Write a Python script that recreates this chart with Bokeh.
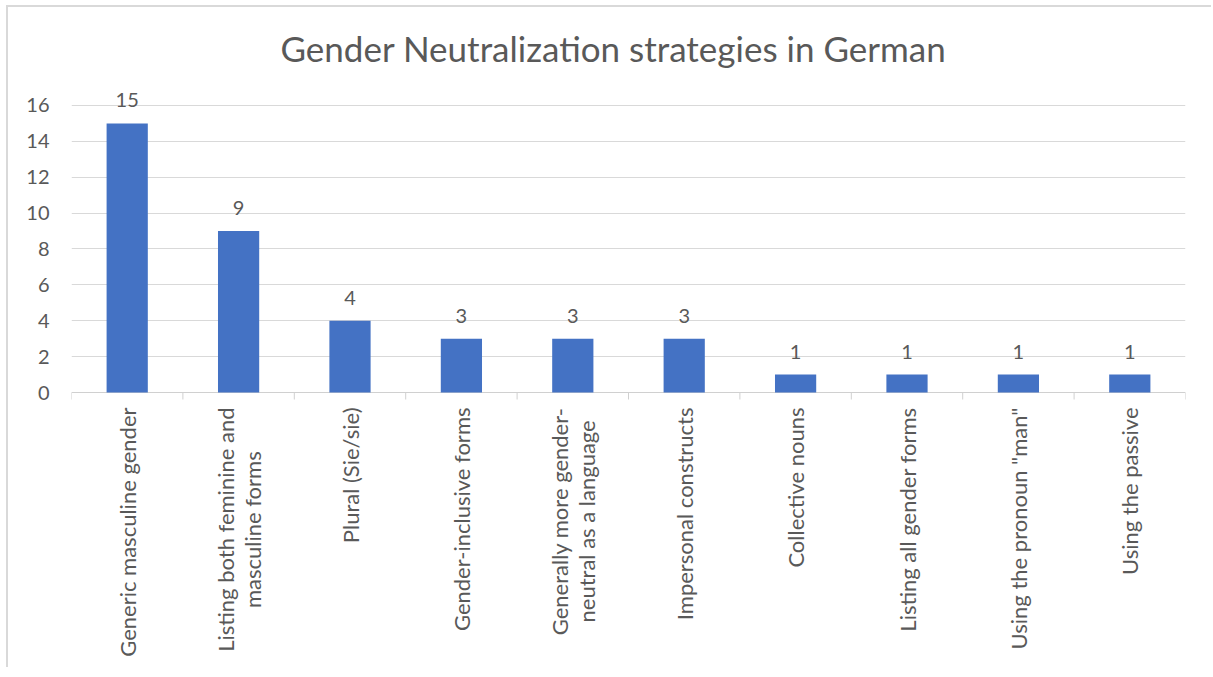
import math
from bokeh.plotting import figure
from bokeh.models import Range1d, FixedTicker, ColumnDataSource
from bokeh.core.properties import value
from bokeh.embed import file_html
from bokeh.resources import INLINE

categories = [
    "Generic masculine gender",
    "Listing both feminine and\nmasculine forms",
    "Plural (Sie/sie)",
    "Gender-inclusive forms",
    "Generally more gender-\nneutral as a language",
    "Impersonal constructs",
    "Collective nouns",
    "Listing all gender forms",
    "Using the pronoun \"man\"",
    "Using the passive",
]
counts = [15, 9, 4, 3, 3, 3, 1, 1, 1, 1]
y_ticks = [0, 2, 4, 6, 8, 10, 12, 14, 16]

W, H = 1205, 662
top_b, left_b, right_b = 70, 63, 28
px_per_unit = 17.94
zero_px = 385  # figure y of value 0
above = (zero_px - top_b) / px_per_unit
below = (H - zero_px) / px_per_unit

TEXT = "#595959"
FONT = "Lato"

p = figure(width=W, height=H, output_backend="svg", toolbar_location=None,
           x_range=Range1d(0, len(categories)), y_range=Range1d(-below, above),
           min_border_top=top_b, min_border_left=left_b, min_border_right=right_b,
           min_border_bottom=0, title="Gender Neutralization strategies in German")
p.styles = {"margin-left": "6px", "margin-top": "5px",
            "border-left": "2px solid #d9d9d9", "border-top": "2px solid #d9d9d9",
            "border-right": "0px none", "border-bottom": "0px none"}
p.outline_line_color = None
p.border_fill_color = "white"
p.title.align = "left"
p.title.text_font = FONT
p.title.text_font_size = "35px"
p.title.text_font_style = "normal"
p.title.text_color = TEXT
p.title.offset = 209
p.title.standoff = 17

p.xaxis.visible = False
p.xgrid.visible = False
p.yaxis.ticker = FixedTicker(ticks=y_ticks)
p.yaxis.axis_line_color = None
p.yaxis.major_tick_line_color = None
p.yaxis.minor_tick_line_color = None
p.yaxis.major_label_standoff = 16
p.yaxis.major_label_text_font = FONT
p.yaxis.major_label_text_font_size = "20px"
p.yaxis.major_label_text_color = TEXT
p.ygrid.ticker = FixedTicker(ticks=y_ticks[1:])
p.ygrid.grid_line_color = "#d9d9d9"
p.ygrid.grid_line_width = 1

xs = [i + 0.5 for i in range(len(categories))]
src = ColumnDataSource(dict(x=xs, top=counts, cat=categories,
                            lbl=[str(c) for c in counts]))

n = len(categories)
p.segment(x0=[0], y0=[0], x1=[n], y1=[0], line_color="#d0d0d0", line_width=1)
tick_len = 7 / px_per_unit
p.segment(x0=list(range(n + 1)), y0=[0] * (n + 1), x1=list(range(n + 1)),
          y1=[-tick_len] * (n + 1), line_color="#d0d0d0", line_width=1)

p.vbar(x="x", top="top", bottom=0, width=0.37, source=src,
       fill_color="#4472C4", line_color=None)

p.text(x="x", y="top", text="lbl", source=src, text_align="center",
       text_baseline="bottom", y_offset=-16, text_font=value(FONT),
       text_font_size="20px", text_color=TEXT)

p.text(x="x", y=0, text="cat", source=src, angle=math.pi / 2,
       anchor="center_right", text_align="center", text_baseline="middle",
       y_offset=15, text_font=value(FONT), text_font_size="22px",
       text_color=TEXT, text_line_height=1.0)

open("out.html", "w").write(file_html(p, INLINE))
